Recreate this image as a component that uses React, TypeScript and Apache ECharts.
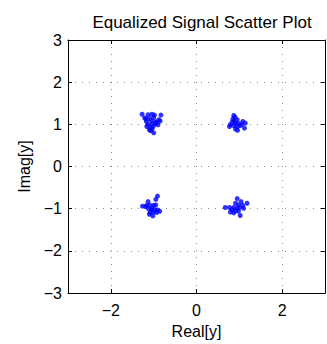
import React, { useEffect, useRef } from "react";
import * as echarts from "echarts";

const title = "Equalized Signal Scatter Plot";
const xName = "Real[y]";
const yName = "Imag[y]";
const xTicks = [-2, 0, 2];
const yTicks = [-3, -2, -1, 0, 1, 2, 3];

const clusterTL: [number, number][] = [
  [-1.27, 1.24], [-1.13, 1.23], [-1.04, 1.24], [-0.98, 1.22], [-0.83, 1.22],
  [-1.21, 1.15], [-1.1, 1.14], [-1.0, 1.16], [-0.88, 1.11], [-1.17, 1.07],
  [-1.05, 1.09], [-0.95, 1.06], [-0.85, 1.08], [-1.13, 1.0], [-1.04, 1.02],
  [-0.96, 1.01], [-0.9, 0.99], [-1.16, 0.95], [-1.08, 0.94], [-1.01, 0.95],
  [-1.1, 0.87], [-1.04, 0.89], [-1.07, 0.85], [-1.0, 0.8], [-0.94, 1.04],
  [-1.18, 1.13],
];
const clusterTR: [number, number][] = [
  [0.87, 1.21], [0.9, 1.17], [0.85, 1.13], [0.95, 1.11], [0.83, 1.05],
  [0.91, 1.03], [0.98, 1.02], [1.08, 1.07], [1.14, 1.03], [0.79, 0.99],
  [0.87, 0.97], [0.95, 0.95], [1.02, 0.97], [1.12, 0.91], [0.91, 0.89],
  [0.96, 0.86], [0.77, 0.95], [1.06, 1.0], [0.88, 1.08],
];
const clusterBL: [number, number][] = [
  [-0.91, -0.7], [-0.95, -0.78], [-1.13, -0.83], [-1.26, -0.94], [-1.16, -0.92],
  [-1.08, -0.92], [-1.0, -0.92], [-0.95, -0.91], [-1.12, -1.0], [-1.04, -1.0],
  [-0.97, -1.02], [-0.91, -1.03], [-0.86, -1.06], [-1.08, -1.09], [-1.0, -1.08],
  [-0.93, -1.09], [-1.1, -1.13], [-1.02, -1.17], [-1.05, -1.03], [-1.19, -0.95],
];
const clusterBR: [number, number][] = [
  [0.95, -0.76], [1.04, -0.83], [1.18, -0.87], [0.91, -0.87], [0.98, -0.91],
  [1.08, -0.92], [0.67, -0.97], [0.77, -0.97], [0.87, -0.97], [0.95, -0.99],
  [1.01, -0.97], [1.1, -0.99], [0.83, -1.02], [0.91, -1.05], [0.98, -1.06],
  [0.87, -1.1], [1.02, -1.16], [0.79, -1.08],
];

const fmt = (v: number) => String(v).replace("-", "\u2212");
const FONT = "'Liberation Sans', Arial, Helvetica, sans-serif";

export default function App() {
  const ref = useRef<HTMLDivElement>(null);
  useEffect(() => {
    if (!ref.current) return;
    const chart = echarts.init(ref.current, null, { renderer: "svg" });
    const lineStyle = { color: "#000", width: 1 };
    const gridDots = { show: true, lineStyle: { color: "#8a8a8a", width: 1, type: [1, 6] as any } };
    chart.setOption({
      animation: false,
      backgroundColor: "#fff",
      title: {
        text: title,
        left: 197,
        textAlign: "center",
        top: 9,
        textStyle: { fontFamily: FONT, fontSize: 17, fontWeight: "normal", color: "#000" },
      },
      grid: { left: 68, right: 2, top: 40, bottom: 50 },
      xAxis: [
        {
          type: "value",
          min: -3,
          max: 3,
          position: "bottom",
          name: xName,
          nameLocation: "middle",
          nameGap: 28,
          nameTextStyle: { fontFamily: FONT, fontSize: 16, color: "#000" },
          axisLine: { show: true, onZero: false, lineStyle },
          axisTick: { show: true, inside: true, length: 4, customValues: xTicks, lineStyle },
          axisLabel: { customValues: xTicks, formatter: fmt, margin: 9, fontFamily: FONT, fontSize: 16, color: "#000" },
          splitLine: gridDots,
        },
        {
          type: "value",
          min: -3,
          max: 3,
          position: "top",
          axisLine: { show: true, onZero: false, lineStyle },
          axisTick: { show: true, inside: true, length: 4, customValues: xTicks, lineStyle },
          axisLabel: { show: false },
          splitLine: { show: false },
        },
      ],
      yAxis: [
        {
          type: "value",
          min: -3,
          max: 3,
          interval: 1,
          position: "left",
          name: yName,
          nameLocation: "middle",
          nameGap: 33,
          nameTextStyle: { fontFamily: FONT, fontSize: 16, color: "#000" },
          axisLine: { show: true, onZero: false, lineStyle },
          axisTick: { show: true, inside: true, length: 4, lineStyle },
          axisLabel: { formatter: fmt, margin: 6, fontFamily: FONT, fontSize: 16, color: "#000" },
          splitLine: gridDots,
        },
        {
          type: "value",
          min: -3,
          max: 3,
          interval: 1,
          position: "right",
          axisLine: { show: true, onZero: false, lineStyle },
          axisTick: { show: true, inside: true, length: 4, lineStyle },
          axisLabel: { show: false },
          splitLine: { show: false },
        },
      ],
      series: [clusterTL, clusterTR, clusterBL, clusterBR].map((d) => ({
        type: "scatter",
        data: d,
        symbol: "circle",
        symbolSize: 5,
        itemStyle: { color: "#0000ff" },
      })),
    });
    return () => chart.dispose();
  }, []);
  return <div ref={ref} style={{ width: 327, height: 344, position: "absolute", left: 0, top: 0 }} />;
}
